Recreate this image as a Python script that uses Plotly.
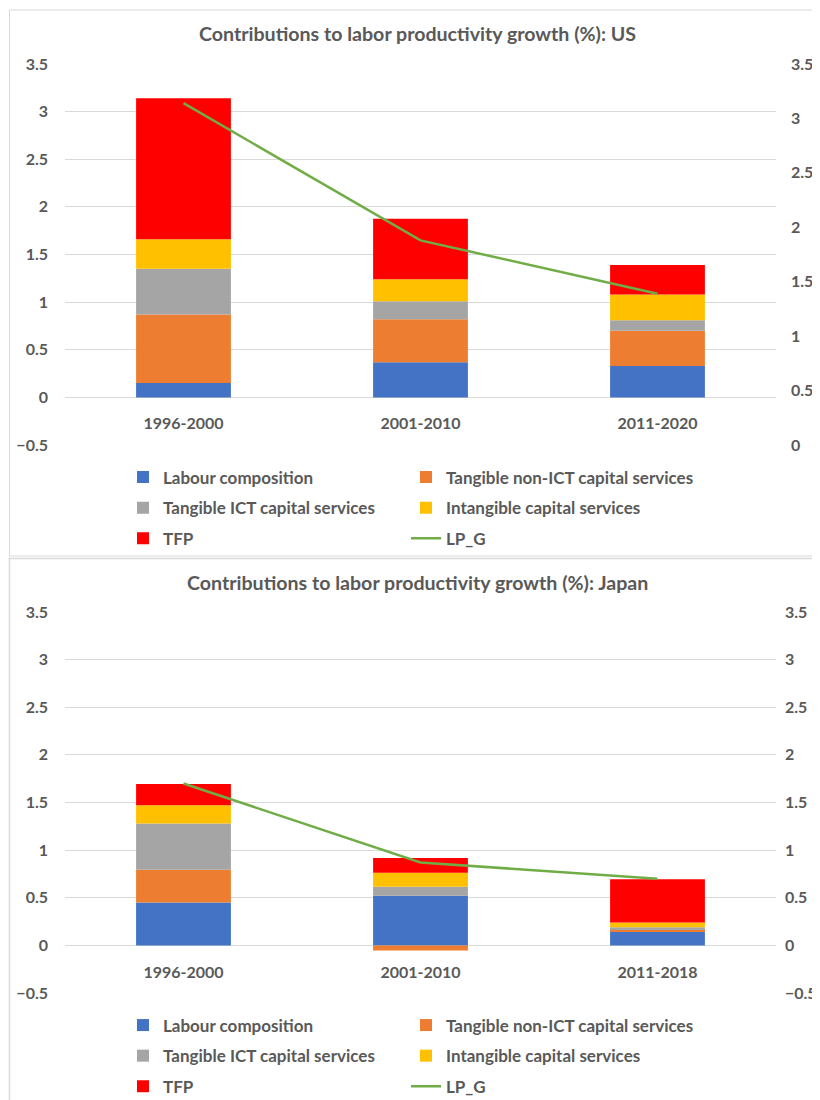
import plotly.graph_objects as go

# ---- data ----
series_names = ["Labour composition", "Tangible non-ICT capital services",
                "Tangible ICT capital services", "Intangible capital services", "TFP"]
series_colors = ["#4472C4", "#ED7D31", "#A5A5A5", "#FFC000", "#FF0000"]

us_periods = ["1996-2000", "2001-2010", "2011-2020"]
us_labour = [0.15, 0.37, 0.33]
us_nonict = [0.72, 0.45, 0.37]
us_ict = [0.48, 0.19, 0.11]
us_intang = [0.31, 0.23, 0.27]
us_tfp = [1.48, 0.635, 0.31]
us_lpg = [3.14, 1.88, 1.39]

jp_periods = ["1996-2000", "2001-2010", "2011-2018"]
jp_labour = [0.45, 0.52, 0.15]
jp_nonict = [0.345, -0.055, 0.02]
jp_ict = [0.485, 0.096, 0.02]
jp_intang = [0.19, 0.147, 0.05]
jp_tfp = [0.225, 0.154, 0.455]
jp_lpg = [1.70, 0.87, 0.70]

left_ticks = [-0.5, 0, 0.5, 1, 1.5, 2, 2.5, 3, 3.5]
us_right_ticks = [0, 0.5, 1, 1.5, 2, 2.5, 3, 3.5]

# ---- figure ----
# the page body has an 8px margin: the figure starts at (8, 8) in the window
OFF = 8
W, H = 820 - OFF, 1100 - OFF
FONT = "Lato"
GRAY = "#595959"
GRID = "#D9D9D9"

def fx(px):
    return (px - OFF) / W

def fy(px):
    return 1 - (px - OFF) / H

fig = go.Figure()

panels = [
    dict(periods=us_periods, vals=[us_labour, us_nonict, us_ict, us_intang, us_tfp], lpg=us_lpg,
         x="x", y="y", y2="y2", legs=("legend", "legend2"), tag="us"),
    dict(periods=jp_periods, vals=[jp_labour, jp_nonict, jp_ict, jp_intang, jp_tfp], lpg=jp_lpg,
         x="x2", y="y3", y2="y4", legs=("legend3", "legend4"), tag="jp"),
]

# legend column for each series: left column / right column
col_of = [0, 1, 0, 1, 0]

for p in panels:
    for i, (name, col, v) in enumerate(zip(series_names, series_colors, p["vals"])):
        fig.add_trace(go.Bar(x=p["periods"], y=v, name=name, marker_color=col,
                             marker_line_width=0, xaxis=p["x"], yaxis=p["y"],
                             legend=p["legs"][col_of[i]],
                             legendgroup=f"{p['tag']}{i}"))
    fig.add_trace(go.Scatter(x=p["periods"], y=p["lpg"], name="LP_G", mode="lines",
                             line=dict(color="#70AD47", width=2.5),
                             xaxis=p["x"], yaxis=p["y2"], legend=p["legs"][1],
                             legendgroup=f"{p['tag']}lpg"))

tickfont = dict(family=FONT, size=16, color=GRAY, weight="bold")
legfont = dict(family=FONT, size=17, color=GRAY, weight="bold")
xdom = [fx(65), fx(776)]

yax_common = dict(range=[-0.5, 3.5], tickvals=left_ticks, showgrid=True, gridcolor=GRID,
                  gridwidth=1, zeroline=False, showline=False, tickfont=tickfont,
                  ticks="", ticklabelstandoff=16, fixedrange=True, automargin=False)
yax_right = dict(showgrid=False, zeroline=False, showline=False, tickfont=tickfont,
                 ticks="", automargin=False, side="right")
xax_common = dict(domain=xdom, anchor="free", showline=False, showgrid=False,
                  zeroline=False, ticks="", tickfont=tickfont, ticklabelstandoff=15,
                  automargin=False)

def leg(xpx, ypx):
    return dict(orientation="v", x=fx(xpx), y=fy(ypx), xanchor="left", yanchor="top",
                tracegroupgap=5.5, traceorder="grouped", font=legfont,
                bgcolor="rgba(0,0,0,0)", borderwidth=0)

fig.update_layout(
    template="none",
    width=W, height=H, margin=dict(l=0, r=0, t=0, b=0, autoexpand=False),
    paper_bgcolor="white", plot_bgcolor="white",
    barmode="relative", bargap=0.6, showlegend=True,
    font=dict(family=FONT, color=GRAY),
    xaxis=dict(position=fy(397), **xax_common),
    yaxis=dict(domain=[fy(445), fy(64)], anchor="x", **yax_common),
    yaxis2=dict(overlaying="y", anchor="x", range=[0, 3.5], tickvals=us_right_ticks,
                ticklabelstandoff=14, **yax_right),
    xaxis2=dict(position=fy(945.7), **xax_common),
    yaxis3=dict(domain=[fy(993), fy(612)], anchor="x2", **yax_common),
    yaxis4=dict(overlaying="y3", anchor="x2", range=[-0.5, 3.5], tickvals=left_ticks,
                ticklabelstandoff=8, **yax_right),
    legend=leg(123, 459.5),
    legend2=leg(406, 459.5),
    legend3=leg(123, 1007.5),
    legend4=leg(406, 1007.5),
)

titles = ["Contributions to labor productivity growth (%): US",
          "Contributions to labor productivity growth (%): Japan"]
for t, yy in zip(titles, [33, 582]):
    fig.add_annotation(text=t, x=fx(417.5), y=fy(yy), xref="paper", yref="paper",
                       xanchor="center", yanchor="middle", showarrow=False,
                       font=dict(family=FONT, size=19.6, color=GRAY, weight="bold"))

# chart frames
fig.add_shape(type="rect", xref="paper", yref="paper", x0=fx(9.5), x1=1.05, y0=fy(556), y1=fy(10),
              line=dict(color=GRID, width=1), layer="below")
fig.add_shape(type="rect", xref="paper", yref="paper", x0=fx(9.5), x1=1.05, y0=-0.05, y1=fy(558.5),
              line=dict(color=GRID, width=1.5), layer="below")

fig.write_html("out.html")
